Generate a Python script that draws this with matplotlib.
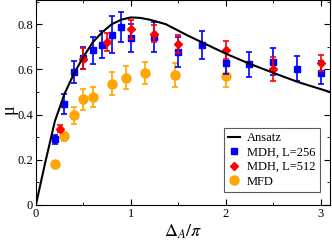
import matplotlib
matplotlib.use("Agg")
import matplotlib.pyplot as plt
from matplotlib.ticker import MultipleLocator

# Ansatz curve
ansatz_x = [0.0, 0.1, 0.2, 0.3, 0.4, 0.5, 0.6, 0.7, 0.8, 0.9, 1.0, 1.1, 1.2, 1.37, 1.6, 1.8, 2.0, 2.24, 2.5, 2.77, 3.1]
ansatz_y = [0.0, 0.19, 0.37, 0.49, 0.58, 0.655, 0.72, 0.765, 0.80, 0.82, 0.83, 0.828, 0.82, 0.80, 0.75, 0.71, 0.67, 0.627, 0.585, 0.543, 0.50]

# MDH, L=256
mdh256_x = [0.2, 0.3, 0.4, 0.5, 0.6, 0.7, 0.8, 0.9, 1.0, 1.25, 1.5, 1.75, 2.0, 2.25, 2.5, 2.75, 3.0]
mdh256_y = [0.29, 0.446, 0.59, 0.65, 0.684, 0.709, 0.754, 0.787, 0.739, 0.743, 0.677, 0.706, 0.628, 0.623, 0.633, 0.603, 0.586]
mdh256_err = [0.02, 0.044, 0.048, 0.05, 0.06, 0.06, 0.083, 0.066, 0.06, 0.066, 0.066, 0.062, 0.05, 0.055, 0.06, 0.055, 0.05]

# MDH, L=512
mdh512_x = [0.25, 0.5, 0.75, 1.0, 1.25, 1.5, 2.0, 2.5, 3.0]
mdh512_y = [0.337, 0.648, 0.721, 0.777, 0.758, 0.714, 0.684, 0.603, 0.628]
mdh512_err = [0.015, 0.045, 0.04, 0.043, 0.037, 0.04, 0.04, 0.053, 0.036]

# MFD
mfd_x = [0.2, 0.3, 0.4, 0.5, 0.6, 0.8, 0.95, 1.15, 1.47, 2.0]
mfd_y = [0.18, 0.305, 0.397, 0.467, 0.478, 0.537, 0.564, 0.584, 0.574, 0.571]
mfd_err = [0.0, 0.02, 0.037, 0.048, 0.045, 0.05, 0.052, 0.05, 0.053, 0.05]

plt.rcParams['font.family'] = ['Liberation Serif', 'DejaVu Serif']
plt.rcParams['mathtext.fontset'] = 'stix'

fig = plt.figure(figsize=(3.32, 2.44), dpi=100)
ax = fig.add_axes([0.108, 0.16, 0.886, 0.838])

line_ansatz, = ax.plot(ansatz_x, ansatz_y, color='black', lw=1.5, zorder=5)
eb_mfd = ax.errorbar(mfd_x, mfd_y, yerr=mfd_err, fmt='o', color='#ffa500', ms=6.5,
                     elinewidth=1.2, capsize=2.5, capthick=1.2, zorder=2)
eb_256 = ax.errorbar(mdh256_x, mdh256_y, yerr=mdh256_err, fmt='s', color='#0000ff', ms=5,
                     elinewidth=1.2, capsize=2.5, capthick=1.2, zorder=3)
eb_512 = ax.errorbar(mdh512_x, mdh512_y, yerr=mdh512_err, fmt='D', color='#ff0000', ms=4.5,
                     elinewidth=1.2, capsize=2.5, capthick=1.2, zorder=4)

ax.set_xlim(0, 3.1)
ax.set_ylim(0, 0.905)
ax.xaxis.set_major_locator(MultipleLocator(1))
ax.xaxis.set_minor_locator(MultipleLocator(0.5))
ax.yaxis.set_minor_locator(MultipleLocator(0.1))
ax.set_yticks([0, 0.2, 0.4, 0.6, 0.8])
ax.set_yticklabels(['0', '0.2', '0.4', '0.6', '0.8'])
ax.tick_params(which='both', direction='in', top=True, right=True, labelsize=9, pad=2)
ax.tick_params(which='major', length=4)
ax.tick_params(which='minor', length=2)

ax.set_xlabel(r'$\Delta_A/\pi$', fontsize=13, labelpad=2)
ax.set_ylabel('μ', fontsize=13)
ax.yaxis.set_label_coords(-0.062, 0.47)

leg = ax.legend([line_ansatz, eb_256[0], eb_512[0], eb_mfd[0]],
                ['Ansatz', 'MDH, L=256', 'MDH, L=512', 'MFD'],
                loc='lower right', bbox_to_anchor=(0.966, 0.063), fontsize=9,
                frameon=True, fancybox=False, edgecolor='#333333', handlelength=0.9,
                handletextpad=0.6, borderpad=0.35, labelspacing=0.2, borderaxespad=0)
leg.get_frame().set_linewidth(0.8)

fig.savefig('out.png', dpi=100)
